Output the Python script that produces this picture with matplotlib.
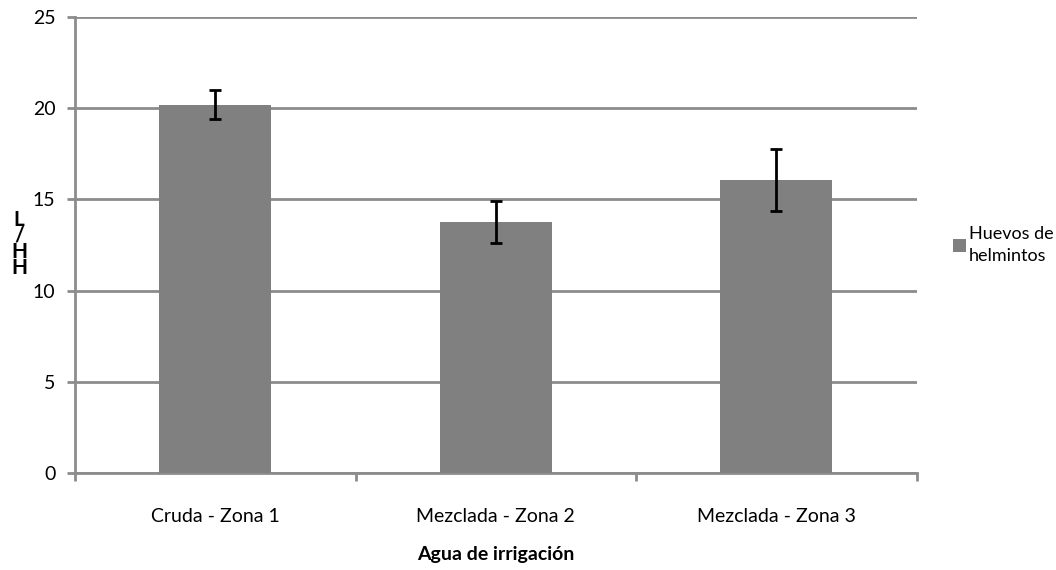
import numpy as np
import matplotlib.pyplot as plt

plt.rcParams['font.family'] = ['Lato', 'DejaVu Sans']

# Huevos de helmintos por agua de irrigacion
categorias = ['Cruda - Zona 1', 'Mezclada - Zona 2', 'Mezclada - Zona 3']
huevos = [20.2, 13.75, 16.05]
error = [0.8, 1.15, 1.7]
yticks = [0, 5, 10, 15, 20, 25]

fig = plt.figure(figsize=(10.56, 5.70), dpi=100)
ax = fig.add_axes([0.071, 0.170, 0.797, 0.800])

x = np.arange(len(categorias))
ax.bar(x, huevos, width=0.4, color='#808080', zorder=3, label='Huevos de\nhelmintos')
ax.errorbar(x, huevos, yerr=error, fmt='none', ecolor='black', elinewidth=2,
            capsize=4, capthick=2, zorder=4)

ax.set_xlim(-0.5, 2.5)
ax.set_ylim(0, 25)
ax.set_yticks(yticks)
ax.yaxis.grid(True, color='#8c8c8c', linewidth=2, zorder=1)
ax.set_axisbelow(True)

for s in ['top', 'right']:
    ax.spines[s].set_visible(False)
for s in ['left', 'bottom']:
    ax.spines[s].set_color('#8c8c8c')
    ax.spines[s].set_linewidth(2)

# ticks on category boundaries, labels at bar centres
ax.set_xticks([-0.5, 0.5, 1.5, 2.5])
ax.set_xticklabels([])
ax.set_xticks(x, minor=True)
ax.set_xticklabels(categorias, minor=True, fontsize=14)
ax.tick_params(axis='x', which='major', length=6, width=2, color='#8c8c8c', direction='out')
ax.tick_params(axis='x', which='minor', length=0, pad=25)
ax.tick_params(axis='y', length=6, width=2, color='#8c8c8c', labelsize=14, pad=8)

ax.set_xlabel('Agua de irrigación', fontsize=14, fontweight='bold', labelpad=15)

fig.text(0.018, 0.572, 'L\n/\nH\nH', fontsize=15, fontweight='bold',
         ha='center', va='center', linespacing=0.75)

leg = ax.legend(loc='center left', bbox_to_anchor=(1.035, 0.5), frameon=False,
                fontsize=13, handlelength=0.7, handleheight=0.7, handletextpad=0.15,
                borderaxespad=0)
for t in leg.get_texts():
    t.set_linespacing(1.45)

fig.savefig('out.png', dpi=100)
